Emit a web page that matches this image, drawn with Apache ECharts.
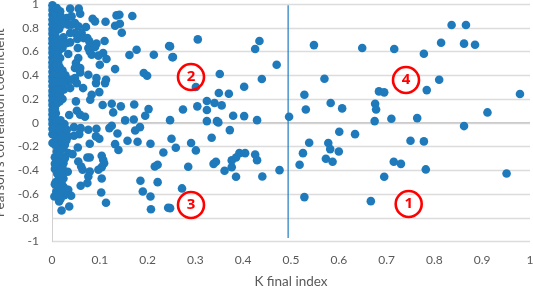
<!DOCTYPE html>
<html><head><meta charset="utf-8">
<style>html,body{margin:0;padding:0;background:#fff}#c{width:533px;height:286px}</style>
<script src="https://cdn.jsdelivr.net/npm/echarts@6/dist/echarts.min.js"></script>
</head><body><div id="c"></div>
<script>
const xTicks = [0,0.1,0.2,0.3,0.4,0.5,0.6,0.7,0.8,0.9,1];
const xAxisTitle = "K final index";
const yAxisTitle = "Pearson's correlation coefficient";
const thresholdLine = [[0.494,0.99],[0.494,-0.97]];
const zeroLine = [[0,0],[1,0]];
const quadrantLabels = ["1","2","3","4"];

const leftColumn = [
[0.001,0.99],[0.002,0.97],[0.001,0.95],[0.003,0.93],[0.001,0.91],[0.004,0.89],[0.001,0.87],[0.003,0.85],[0.001,0.83],[0.004,0.81],
[0.001,0.79],[0.002,0.77],[0.001,0.75],[0.003,0.73],[0.001,0.71],[0.002,0.69],[0.001,0.67],[0.004,0.65],[0.001,0.63],[0.002,0.61],
[0.001,0.59],[0.003,0.57],[0.001,0.55],[0.004,0.53],[0.001,0.51],[0.002,0.49],[0.001,0.47],[0.003,0.45],[0.001,0.43],[0.004,0.41],
[0.001,0.39],[0.002,0.37],[0.001,0.35],[0.003,0.33],[0.001,0.31],[0.004,0.29],[0.001,0.27],[0.002,0.25],[0.001,0.23],[0.003,0.21],
[0.001,0.19],[0.002,0.17],[0.001,0.15],[0.003,0.13],[0.001,0.11],[0.002,0.09],[0.001,0.07],[0.003,0.05],[0.001,0.03],[0.002,0.01],
[0.001,-0.01],[0.003,-0.03],[0.008,0.95],[0.009,0.9],[0.007,0.86],[0.01,0.8],[0.008,0.72],[0.012,0.66],[0.009,0.58],[0.011,0.52],
[0.008,0.44],[0.012,0.38],[0.009,0.3],[0.013,0.24],[0.01,0.16],[0.008,0.08],[0.01,0.02],[0.012,-0.02],
[0.006,0.92],[0.012,0.87],[0.008,0.77],[0.006,0.68],[0.015,0.61],[0.007,0.49],[0.006,0.41],[0.007,0.34],[0.008,0.27],[0.007,0.2],[0.006,0.12],[0.005,0.05]
];
const leftBlobs = [
[0.018,0.9],[0.025,0.87],[0.015,0.79],[0.024,0.72],[0.03,0.67],[0.022,0.63],[0.016,0.47],[0.022,0.44],[0.028,0.4],[0.02,0.37],
[0.03,0.35],[0.019,0.3],[0.025,0.28],[0.017,0.25],[0.022,0.2],[0.016,0.18],[0.018,0.02],[0.026,-0.01],[0.012,-0.06],[0.024,-0.06],
[0.014,-0.1],[0.028,-0.11],[0.008,-0.14],[0.018,-0.17],[0.012,-0.21],[0.018,-0.23],[0.02,-0.29],[0.012,-0.3],[0.006,-0.29],[0.012,-0.34],
[0.006,-0.39],[0.024,-0.42],[0.015,-0.46],[0.008,-0.5],[0.024,-0.47],[0.014,-0.52],[0.024,-0.54],[0.009,-0.58],[0.026,-0.61],[0.018,-0.64]
];
const upperLeft = [
[0.038,0.961],[0.056,0.961],[0.059,0.918],[0.031,0.882],[0.041,0.896],[0.048,0.84],[0.085,0.876],[0.09,0.854],[0.112,0.851],[0.135,0.904],
[0.141,0.91],[0.168,0.899],[0.142,0.834],[0.132,0.817],[0.146,0.758],[0.017,0.938],[0.01,0.966],[0.02,0.826],[0.027,0.84],[0.034,0.826],
[0.041,0.826],[0.055,0.812],[0.071,0.806],[0.038,0.756],[0.048,0.756],[0.062,0.756],[0.066,0.713],[0.074,0.713],[0.053,0.705],[0.078,0.685],
[0.054,0.629],[0.093,0.666],[0.11,0.688],[0.09,0.638],[0.076,0.629],[0.079,0.601],[0.083,0.573],[0.017,0.671],[0.027,0.671],[0.038,0.677],
[0.01,0.643],[0.034,0.579],[0.107,0.587],[0.097,0.565],[0.114,0.537],[0.1,0.489],[0.132,0.452],[0.162,0.57],[0.177,0.615],[0.213,0.573],
[0.245,0.646],[0.252,0.551],[0.192,0.419],[0.199,0.396],[0.055,0.545],[0.05,0.503],[0.059,0.461],[0.048,0.461],[0.059,0.424],[0.076,0.404],
[0.093,0.376],[0.092,0.334],[0.113,0.362],[0.111,0.334],[0.034,0.362],[0.041,0.362],[0.048,0.376],[0.052,0.334],[0.038,0.292],[0.065,0.292],
[0.099,0.258],[0.083,0.236],[0.08,0.194],[0.017,0.433],[0.01,0.475],[0.02,0.404],[0.013,0.348],[0.024,0.334],[0.013,0.278],[0.013,0.222],
[0.011,0.183],[0.017,0.545],[0.013,0.503],[0.05,0.18],[0.106,0.149],[0.125,0.16],[0.144,0.138],[0.172,0.154],[0.128,0.087],[0.202,0.115],
[0.195,0.059],[0.052,0.101],[0.036,0.065],[0.059,0.067],[0.069,0.051],[0.153,0.02],[0.171,0.028],[0.247,0.022],[0.01,0.014]
];
const upperMiddle = [
[0.247,0.643],[0.253,0.553],[0.305,0.702],[0.434,0.688],[0.425,0.621],[0.47,0.489],[0.351,0.41],[0.439,0.368],[0.402,0.303],[0.301,0.301],
[0.349,0.25],[0.37,0.244],[0.324,0.183],[0.34,0.166],[0.355,0.146],[0.304,0.138],[0.274,0.112],[0.324,0.107],[0.379,0.059],[0.402,0.056],
[0.324,0.014],[0.345,0.014],[0.348,0.003],[0.429,0.022],[0.496,0.051],[0.548,0.654],[0.57,0.371],[0.528,0.236],[0.531,0.112],[0.583,0.166],
[0.607,0.121]
];
const upperRight = [
[0.649,0.629],[0.716,0.621],[0.778,0.581],[0.814,0.674],[0.836,0.823],[0.866,0.823],[0.862,0.666],[0.885,0.657],[0.81,0.362],[0.784,0.275],
[0.684,0.264],[0.695,0.256],[0.676,0.16],[0.678,0.112],[0.675,0.014],[0.71,0.034],[0.764,0.039],[0.911,0.087],[0.979,0.242]
];
const lowerRight = [
[0.862,-0.028],[0.634,-0.096],[0.75,-0.152],[0.778,-0.157],[0.715,-0.329],[0.73,-0.346],[0.782,-0.393],[0.951,-0.427],[0.695,-0.455],[0.667,-0.66],
[0.601,-0.076],[0.538,-0.169],[0.578,-0.171],[0.582,-0.222],[0.6,-0.242],[0.525,-0.256],[0.573,-0.303],[0.587,-0.329],[0.518,-0.354],[0.528,-0.626]
];
const lowerMiddle = [
[0.476,-0.399],[0.44,-0.452],[0.372,-0.062],[0.334,-0.126],[0.291,-0.171],[0.301,-0.233],[0.25,-0.135],[0.259,-0.211],[0.285,-0.371],[0.272,-0.553],
[0.247,-0.719],[0.338,-0.346],[0.343,-0.329],[0.361,-0.404],[0.376,-0.374],[0.385,-0.455],[0.376,-0.317],[0.385,-0.292],[0.392,-0.256],[0.404,-0.256],
[0.425,-0.267],[0.429,-0.315]
];
const lowerLeft = [
[0.093,-0.051],[0.076,-0.059],[0.125,-0.025],[0.12,-0.045],[0.137,-0.09],[0.184,-0.037],[0.174,-0.065],[0.092,-0.115],[0.099,-0.135],[0.079,-0.177],
[0.132,-0.18],[0.139,-0.23],[0.158,-0.152],[0.179,-0.16],[0.206,-0.177],[0.233,-0.25],[0.221,-0.354],[0.215,-0.368],[0.185,-0.489],[0.221,-0.5],
[0.19,-0.579],[0.206,-0.621],[0.207,-0.728],[0.243,-0.716],[0.054,-0.208],[0.043,-0.264],[0.034,-0.256],[0.055,-0.326],[0.061,-0.368],[0.064,-0.396],
[0.074,-0.292],[0.079,-0.292],[0.104,-0.278],[0.107,-0.312],[0.109,-0.34],[0.104,-0.374],[0.097,-0.396],[0.079,-0.41],[0.076,-0.452],[0.104,-0.469],
[0.074,-0.508],[0.06,-0.531],[0.103,-0.587],[0.113,-0.674],[0.033,-0.413],[0.034,-0.565],[0.04,-0.615],[0.036,-0.705],[0.02,-0.739],[0.015,-0.663],
[0.005,-0.621],[0.006,-0.517],[0.02,-0.508],[0.013,-0.551],[0.02,-0.579],[0.013,-0.607],[0.031,-0.565],[0.02,-0.438],[0.006,-0.346],[0.017,-0.326],
[0.024,-0.34],[0.01,-0.382],[0.017,-0.41],[0.027,-0.298],[0.01,-0.242],[0.024,-0.213],[0.001,-0.171],[0.006,-0.185],[0.027,-0.185],[0.001,-0.096],
[0.02,-0.087],[0.031,-0.059],[0.046,-0.037],[0.06,-0.045],[0.057,-0.096],[0.046,-0.11],[0.034,-0.115],[0.02,-0.129],[0.006,-0.03],[0.001,-0.05],
[0.016,-0.045],[0.016,-0.26],[0.03,-0.15],[0.011,-0.43],[0.022,-0.38]
];
const points = [].concat(leftColumn, leftBlobs, upperLeft, upperMiddle, upperRight, lowerRight, lowerMiddle, lowerLeft);

const badge = (cx, cy, t) => ([
  {type:'circle', shape:{cx, cy, r:13}, z:20, style:{fill:'transparent', stroke:'#ff0000', lineWidth:2.6}},
  {type:'text', x:cx, y:cy, z:21, style:{text:t, fill:'#ff0000', font:'bold 15px "Open Sans", sans-serif', textAlign:'center', textVerticalAlign:'middle'}}
]);
const textStyle = {color:'#595959', fontFamily:'Lato, sans-serif', fontSize:12};
const chart = echarts.init(document.getElementById('c'), null, {renderer:'canvas'});
chart.setOption({
  animation:false,
  backgroundColor:'#fff',
  grid:{left:52, right:3, top:4, bottom:44.5, containLabel:false, outerBoundsMode:'none'},
  xAxis:{type:'value', min:0, max:1, interval:0.1, name:xAxisTitle, nameLocation:'middle', nameGap:33,
    nameTextStyle:{color:'#595959', fontFamily:'Lato, sans-serif', fontSize:13.5},
    axisLine:{onZero:false, show:false}, axisTick:{show:false}, splitLine:{show:false},
    axisLabel:Object.assign({margin:13, hideOverlap:false, formatter:v=>String(v)}, textStyle)},
  yAxis:{type:'value', min:-1, max:1, interval:0.2, name:yAxisTitle, nameLocation:'middle', nameGap:35,
    nameTextStyle:{color:'#595959', fontFamily:'Lato, sans-serif', fontSize:13.5},
    axisLine:{show:true, lineStyle:{color:'#d0d0d0', width:1}}, axisTick:{show:false},
    splitLine:{show:true, lineStyle:{color:'#dcdcdc', width:1.4}},
    axisLabel:Object.assign({margin:13, formatter:v=>String(Math.round(v*10)/10)}, textStyle)},
  series:[
    {type:'line', data:zeroLine, symbol:'none', z:1, silent:true, lineStyle:{color:'#bdbdbd', width:1}},
    {type:'line', data:thresholdLine, symbol:'none', z:2, silent:true, lineStyle:{color:'#2f86c4', width:1.3}},
    {type:'scatter', data:points, symbol:'circle', symbolSize:8.6, z:3, itemStyle:{color:'#1f7abc', opacity:1}}
  ],
  graphic:[].concat(badge(408.7,204,quadrantLabels[0]), badge(191,77,quadrantLabels[1]), badge(191,205,quadrantLabels[2]), badge(406,80,quadrantLabels[3]))
});
</script></body></html>
